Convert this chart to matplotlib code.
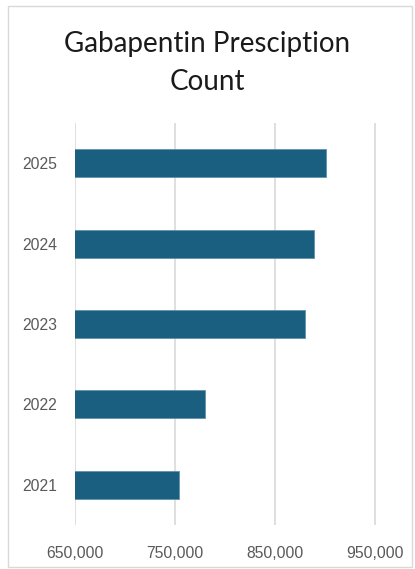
import matplotlib.pyplot as plt
from matplotlib.patches import Rectangle
from matplotlib.ticker import FuncFormatter

years = ["2021", "2022", "2023", "2024", "2025"]
counts = [754000, 780000, 880000, 889000, 901000]
x_ticks = [650000, 750000, 850000, 950000]

W, H = 415, 569
fig = plt.figure(figsize=(W / 100, H / 100), dpi=100)

# light frame round the whole chart
fig.patches.append(Rectangle((8 / W, 1 - 567 / H), 404 / W, 561 / H,
                             transform=fig.transFigure, fill=False,
                             edgecolor="#d9d9d9", linewidth=1))

ax = fig.add_axes([75 / W, 1 - 525 / H, 335 / W, 402 / H])
ax.barh(range(len(years)), counts, height=0.35, color="#1a5e80",
        edgecolor="#5f93ad", linewidth=0.6, zorder=3)

ax.set_xlim(650000, 985000)
ax.set_ylim(-0.5, len(years) - 0.5)
ax.set_xticks(x_ticks)
ax.xaxis.set_major_formatter(FuncFormatter(lambda v, p: f"{int(v):,}"))
ax.set_yticks(range(len(years)))
ax.set_yticklabels(years)
ax.grid(axis="x", color="#d9d9d9", linewidth=1.2, zorder=0)
for s in ax.spines.values():
    s.set_visible(False)
ax.tick_params(length=0, labelsize=11.3, labelcolor="#595959", pad=15)
ax.tick_params(axis="y", pad=13)
for lab in ax.get_xticklabels() + ax.get_yticklabels():
    lab.set_family(["Liberation Sans", "DejaVu Sans"])

fig.text(0.5, 1 - 63 / H, "Gabapentin Presciption\nCount", ha="center",
         va="center", fontsize=20, family=["Lato", "DejaVu Sans"],
         color="#1a1a1a", linespacing=1.55)

fig.savefig("out.png", dpi=100)
